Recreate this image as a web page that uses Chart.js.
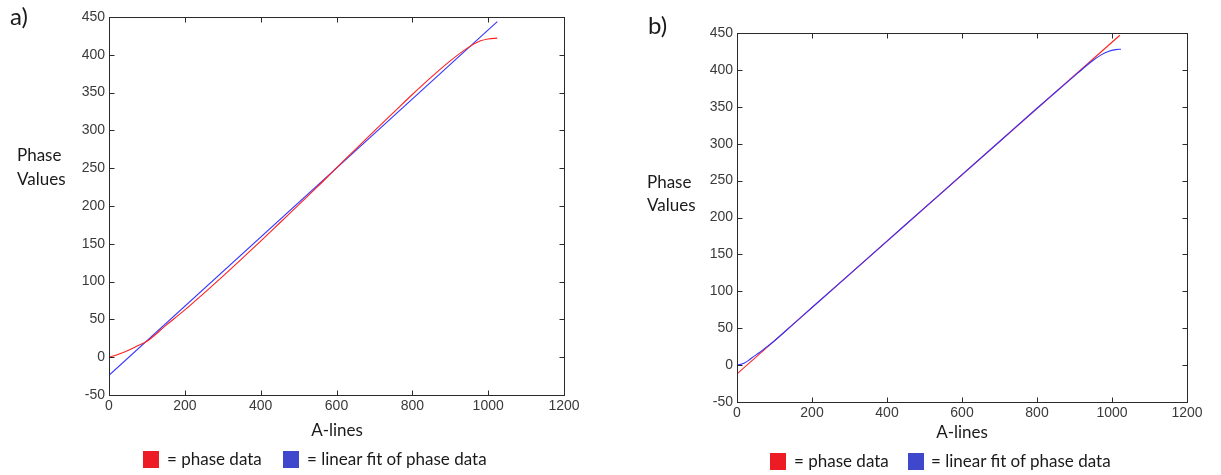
<!DOCTYPE html>
<html><head><meta charset="utf-8">
<script src="https://cdn.jsdelivr.net/npm/chart.js@4/dist/chart.umd.min.js"></script>
<style>
html,body{margin:0;padding:0;background:#fff;width:1221px;height:475px;overflow:hidden;}
.c{position:absolute;top:0;height:475px;}
.t{position:absolute;font-family:Lato,'Open Sans',sans-serif;color:#1a1a1a;white-space:nowrap;}
.sq{position:absolute;width:16px;height:17px;}
</style></head><body>
<div class="c" style="left:0;width:610px"><canvas id="ca"></canvas></div>
<div class="c" style="left:610px;width:611px"><canvas id="cb"></canvas></div>

<div class="t" style="left:10px;top:4px;font-size:24px;line-height:24px">a)</div>
<div class="t" style="left:648px;top:13px;font-size:24px;line-height:24px">b)</div>

<div class="t" style="left:17px;top:143px;font-size:17px;line-height:24px">Phase<br>Values</div>
<div class="t" style="left:647px;top:170px;font-size:17px;line-height:23px">Phase<br>Values</div>

<div class="t" style="left:337px;top:420px;font-size:17px;line-height:20px;transform:translateX(-50%)">A-lines</div>
<div class="t" style="left:962px;top:422px;font-size:17px;line-height:20px;transform:translateX(-50%)">A-lines</div>

<div class="sq" style="left:143px;top:451px;background:#ed1c24"></div>
<div class="t" style="left:167px;top:449px;font-size:17px;line-height:20px">= phase data</div>
<div class="sq" style="left:283px;top:451px;background:#3f48cc"></div>
<div class="t" style="left:307px;top:449px;font-size:17px;line-height:20px">= linear fit of phase data</div>

<div class="sq" style="left:770px;top:453px;background:#ed1c24"></div>
<div class="t" style="left:794px;top:451px;font-size:17px;line-height:20px">= phase data</div>
<div class="sq" style="left:908px;top:453px;background:#3f48cc"></div>
<div class="t" style="left:931px;top:451px;font-size:17px;line-height:20px">= linear fit of phase data</div>

<script>
// ---- Axis ticks ----
const xTicks = [0, 200, 400, 600, 800, 1000, 1200];
const yTicks = [-50, 0, 50, 100, 150, 200, 250, 300, 350, 400, 450];

// ---- Panel a ----
const aPhaseX = [0, 25, 50, 75, 100, 150, 200, 250, 300, 350, 400, 450, 500, 550, 600, 650, 700, 750, 800, 850, 900, 950, 980, 1000, 1024];
const aPhaseY = [0, 4, 9, 15, 21, 42, 62.5, 84.5, 107, 130, 153.5, 177.5, 201.5, 225.5, 250.5, 275, 299.5, 323.5, 347.5, 370.5, 392, 410.5, 418.5, 421, 422];
const aFitX = [0, 1024];
const aFitY = [-24, 444];

// ---- Panel b ----
const bCurveX = [0, 10, 20, 30, 40, 60, 80, 100, 150, 200, 300, 400, 500, 600, 700, 800, 850, 900, 930, 950, 970, 990, 1010, 1024];
const bCurveY = [0, 1, 3, 6, 10, 17, 25, 33, 55.5, 78, 123, 168, 213, 258, 303, 348, 370, 392, 405, 413, 420, 425, 427.5, 428];
const bLineX = [0, 1021];
const bLineY = [-12, 447];

const RED = '#ff2020';
const BLUE = '#3535ff';

function pts(xs, ys){ return xs.map((x,i)=>({x:x, y:ys[i]})); }

const boxPlugin = {
  id: 'box',
  afterDatasetsDraw(chart){
    const {ctx, chartArea:a, scales:{x, y}} = chart;
    ctx.save();
    ctx.strokeStyle = '#2a2a2a';
    ctx.lineWidth = 1;
    const L = Math.round(a.left)+0.5, R = Math.round(a.right)+0.5, T = Math.round(a.top)+0.5, B = Math.round(a.bottom)+0.5;
    ctx.strokeRect(L, T, R-L, B-T);
    const len = 5;
    ctx.beginPath();
    x.ticks.forEach(t=>{
      const p = Math.round(x.getPixelForValue(t.value))+0.5;
      ctx.moveTo(p, B); ctx.lineTo(p, B-len);
      ctx.moveTo(p, T); ctx.lineTo(p, T+len);
    });
    y.ticks.forEach(t=>{
      const p = Math.round(y.getPixelForValue(t.value))+0.5;
      ctx.moveTo(L, p); ctx.lineTo(L+len, p);
      ctx.moveTo(R, p); ctx.lineTo(R-len, p);
    });
    ctx.stroke();
    ctx.restore();
  }
};

const tickFont = { family: '"Liberation Sans", Arial, sans-serif', size: 14 };

function makeChart(id, datasets, geo){
  return new Chart(document.getElementById(id), {
    type: 'line',
    data: { datasets: datasets },
    plugins: [boxPlugin],
    options: {
      responsive: true,
      maintainAspectRatio: false,
      animation: false,
      events: [],
      layout: { padding: { left: 0, top: geo.top, right: geo.right, bottom: 0 } },
      plugins: { legend: { display: false }, tooltip: { enabled: false } },
      elements: { point: { radius: 0 } },
      scales: {
        x: {
          type: 'linear', min: 0, max: 1200,
          afterBuildTicks: s => { s.ticks = xTicks.map(v=>({value:v})); },
          afterFit: s => { s.height = geo.xh; },
          grid: { display: false, drawTicks: false },
          border: { display: false },
          ticks: { padding: 3, color: '#3a3a3a', font: tickFont, callback: v => String(v) }
        },
        y: {
          type: 'linear', min: -50, max: 450,
          afterBuildTicks: s => { s.ticks = yTicks.map(v=>({value:v})); },
          afterFit: s => { s.width = geo.yw; },
          grid: { display: false, drawTicks: false },
          border: { display: false },
          ticks: { padding: 4, color: '#3a3a3a', font: tickFont, callback: v => String(v) }
        }
      }
    }
  });
}

makeChart('ca', [
  { data: pts(aPhaseX, aPhaseY), borderColor: RED, borderWidth: 1.1, cubicInterpolationMode: 'monotone', fill: false },
  { data: pts(aFitX, aFitY), borderColor: BLUE, borderWidth: 1.1, fill: false }
], { top: 17, right: 46, xh: 80, yw: 109 });

makeChart('cb', [
  { data: pts(bCurveX, bCurveY), borderColor: BLUE, borderWidth: 1.1, cubicInterpolationMode: 'monotone', fill: false },
  { data: pts(bLineX, bLineY), borderColor: RED, borderWidth: 1.1, fill: false }
], { top: 33, right: 34, xh: 73, yw: 127 });
</script>
</body></html>
